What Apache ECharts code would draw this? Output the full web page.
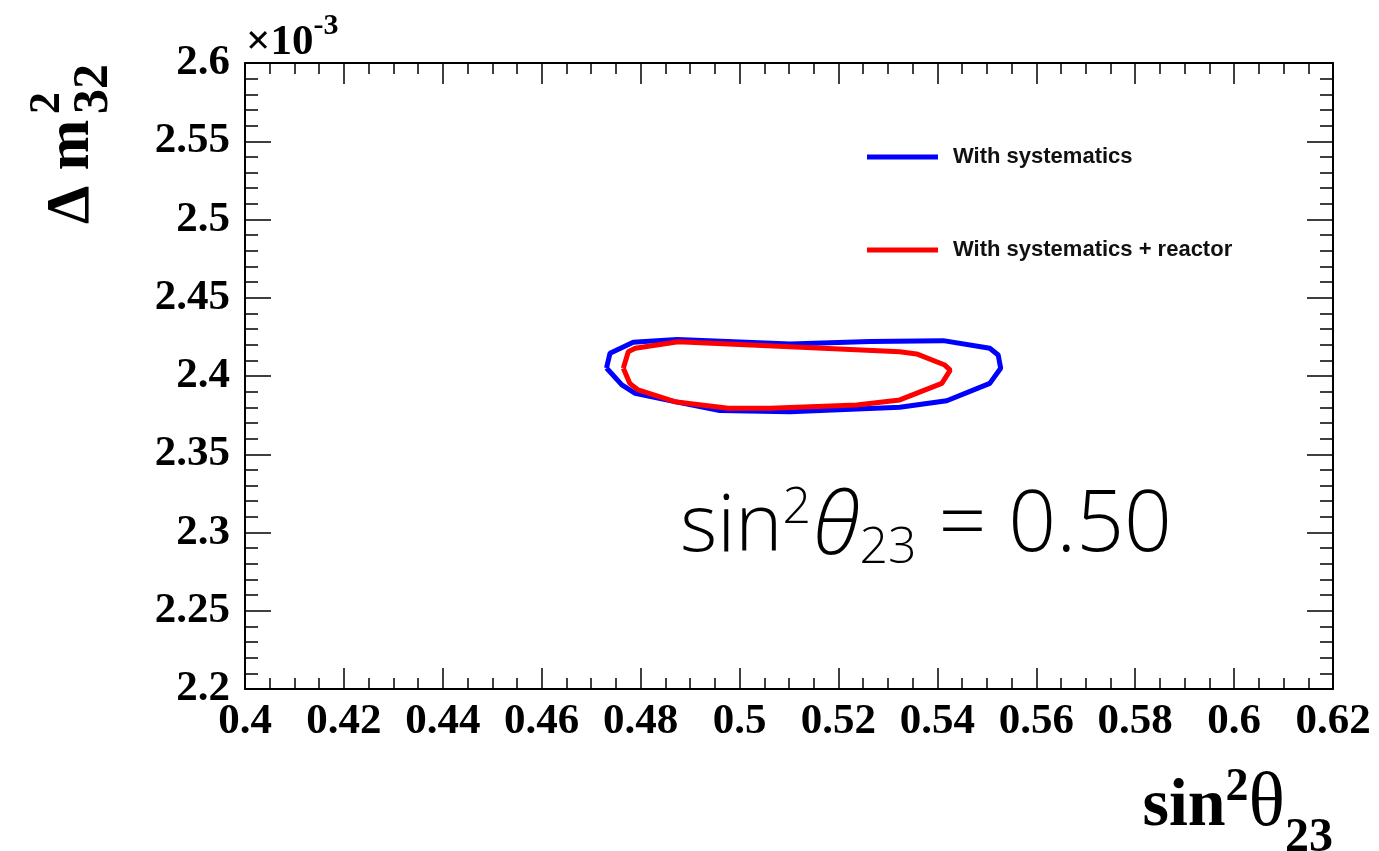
<!DOCTYPE html>
<html>
<head>
<meta charset="utf-8">
<script src="https://cdn.jsdelivr.net/npm/echarts@6/dist/echarts.min.js"></script>
<style>
  html, body { margin: 0; padding: 0; background: #fff; }
  #chart { width: 1379px; height: 851px; }
</style>
</head>
<body>
<div id="chart"></div>
<script>
// Allowed-region contours in the (sin^2 theta23, dm^2_32) plane.
// dm^2_32 values are in units of 1e-3 eV^2 (see the x10^-3 axis marker).

// Contour: with systematics
const sysSin2 = [0.4731, 0.4738, 0.4785, 0.4874, 0.5102, 0.5264, 0.5412, 0.5506, 0.5523, 0.5528,
                 0.5506, 0.5419, 0.5324, 0.5102, 0.4960, 0.4869, 0.4789, 0.4762, 0.4731];
const sysDm2  = [2.4051, 2.4145, 2.4215, 2.4234, 2.4204, 2.4220, 2.4226, 2.4177, 2.4134, 2.4049,
                 2.3953, 2.3842, 2.3800, 2.3772, 2.3780, 2.3836, 2.3889, 2.3943, 2.4051];

// Contour: with systematics + reactor constraint
const reacSin2 = [0.4765, 0.4775, 0.4789, 0.4876, 0.5102, 0.5324, 0.5358, 0.5415, 0.5426, 0.5409,
                  0.5324, 0.5237, 0.5062, 0.4977, 0.4869, 0.4795, 0.4778, 0.4765];
const reacDm2  = [2.4049, 2.4155, 2.4177, 2.4219, 2.4187, 2.4155, 2.4141, 2.4070, 2.4038, 2.3953,
                  2.3847, 2.3815, 2.3794, 2.3794, 2.3836, 2.3911, 2.3953, 2.4049];

const seriesNames = ['With systematics', 'With systematics + reactor'];
const seriesColors = ['#0000ff', '#ff0000'];

// Axis ranges and tick steps
const xRange = [0.4, 0.62];
const xStep = 0.02;
const yRange = [2.2, 2.6];
const yStep = 0.05;

const pairs = (xs, ys) => xs.map((x, i) => [x, ys[i]]);

const serifBold = { fontFamily: 'Liberation Serif', fontWeight: 'bold', color: '#000' };
const frameLine = { show: true, onZero: false, lineStyle: { color: '#000', width: 2 } };

function xAxisDef(pos, showLabels) {
  return {
    type: 'value', position: pos, min: xRange[0], max: xRange[1], interval: xStep,
    axisLine: frameLine,
    axisTick: { show: true, inside: true, length: 21, lineStyle: { color: '#000', width: 1.5 } },
    minorTick: { show: true, splitNumber: 4, length: 11, lineStyle: { color: '#000', width: 1.5 } },
    splitLine: { show: false },
    axisLabel: showLabels ? Object.assign({ fontSize: 43, margin: 11 }, serifBold) : { show: false }
  };
}
function yAxisDef(pos, showLabels) {
  return {
    type: 'value', position: pos, min: yRange[0], max: yRange[1], interval: yStep,
    axisLine: frameLine,
    axisTick: { show: true, inside: true, length: 26, lineStyle: { color: '#000', width: 1.5 } },
    minorTick: { show: true, splitNumber: 5, length: 13, lineStyle: { color: '#000', width: 1.5 } },
    splitLine: { show: false },
    axisLabel: showLabels ? Object.assign({ fontSize: 43, margin: 15 }, serifBold) : { show: false }
  };
}

const chart = echarts.init(document.getElementById('chart'), null, { renderer: 'canvas' });

chart.setOption({
  animation: false,
  backgroundColor: '#fff',
  grid: { left: 245, right: 46, top: 63, bottom: 162, containLabel: false },
  xAxis: [xAxisDef('bottom', true), xAxisDef('top', false)],
  yAxis: [yAxisDef('left', true), yAxisDef('right', false)],
  legend: {
    left: 862, top: 141, orient: 'vertical',
    itemWidth: 71, itemHeight: 5, itemGap: 71, icon: 'rect',
    data: seriesNames,
    textStyle: { fontFamily: 'Liberation Sans', fontWeight: 'bold', fontSize: 22, color: '#111', padding: [0, 0, 0, 10] }
  },
  series: [
    {
      name: seriesNames[0], type: 'line', data: pairs(sysSin2, sysDm2),
      showSymbol: false, smooth: false, z: 3,
      lineStyle: { color: seriesColors[0], width: 5 }, itemStyle: { color: seriesColors[0] }
    },
    {
      name: seriesNames[1], type: 'line', data: pairs(reacSin2, reacDm2),
      showSymbol: false, smooth: false, z: 4,
      lineStyle: { color: seriesColors[1], width: 5 }, itemStyle: { color: seriesColors[1] }
    }
  ],
  graphic: [
    // x-axis title
    {
      type: 'text', right: 46, top: 765,
      style: {
        text: '{b|sin}{sup|2}{th|θ}{sub|23}',
        rich: {
          b:   { fontFamily: 'Liberation Serif', fontWeight: 'bold', fontSize: 68, lineHeight: 68, verticalAlign: 'top', padding: [8, 0, 0, 0], fill: '#000' },
          sup: { fontFamily: 'Liberation Serif', fontWeight: 'bold', fontSize: 46, lineHeight: 46, verticalAlign: 'top', padding: [0, 0, 0, 0], fill: '#000' },
          th:  { fontFamily: 'Liberation Serif', fontWeight: 'normal', fontSize: 76, lineHeight: 76, verticalAlign: 'top', padding: [2, 0, 0, 0], fill: '#000' },
          sub: { fontFamily: 'Liberation Serif', fontWeight: 'bold', fontSize: 48, lineHeight: 48, verticalAlign: 'top', padding: [50, 0, 0, 0], fill: '#000' }
        }
      }
    },
    // y-axis title, rotated to read bottom-to-top
    {
      type: 'group', x: 103, y: 224, rotation: Math.PI / 2,
      children: [
        {
          type: 'text', x: 0, y: 0,
          style: { text: 'Δ m', fontFamily: 'Liberation Serif', fontWeight: 'bold', fontSize: 61, fill: '#000', textAlign: 'left', textVerticalAlign: 'bottom' }
        },
        {
          type: 'text', x: 110, y: -33,
          style: { text: '2', fontFamily: 'Liberation Serif', fontWeight: 'bold', fontSize: 44, fill: '#000', textAlign: 'left', textVerticalAlign: 'bottom' }
        },
        {
          type: 'text', x: 110, y: 16,
          style: { text: '32', fontFamily: 'Liberation Serif', fontWeight: 'bold', fontSize: 50, fill: '#000', textAlign: 'left', textVerticalAlign: 'bottom' }
        }
      ]
    },
    // scale marker for the y axis
    {
      type: 'text', left: 246, top: 6,
      style: {
        text: '{b|×10}{sup|-3}',
        rich: {
          b:   { fontFamily: 'Liberation Serif', fontWeight: 'bold', fontSize: 43, lineHeight: 43, verticalAlign: 'top', padding: [15, 0, 0, 0], fill: '#000' },
          sup: { fontFamily: 'Liberation Serif', fontWeight: 'bold', fontSize: 30, lineHeight: 30, verticalAlign: 'top', padding: [5, 0, 0, 0], fill: '#000' }
        }
      }
    },
    // best-fit annotation
    {
      type: 'text', left: 680, top: 470,
      style: {
        text: '{s|sin}{sup|2}{th|θ}{sub|23}{v| = 0.50}',
        rich: {
          s:   { fontFamily: 'Open Sans', fontWeight: 300, fontSize: 80, lineHeight: 80, verticalAlign: 'top', padding: [18, 0, 0, 0], fill: '#000' },
          v:   { fontFamily: 'Open Sans', fontWeight: 300, fontSize: 84, lineHeight: 84, verticalAlign: 'top', padding: [15, 0, 0, 0], fill: '#000' },
          sup: { fontFamily: 'Open Sans', fontWeight: 300, fontSize: 50, lineHeight: 50, verticalAlign: 'top', padding: [14, 0, 0, 0], fill: '#000' },
          th:  { fontFamily: 'Open Sans', fontWeight: 300, fontStyle: 'italic', fontSize: 86, lineHeight: 86, verticalAlign: 'top', padding: [16, 0, 0, 2], fill: '#000' },
          sub: { fontFamily: 'Open Sans', fontWeight: 300, fontSize: 50, lineHeight: 50, verticalAlign: 'top', padding: [54, 0, 0, 0], fill: '#000' }
        }
      }
    }
  ]
});
</script>
</body>
</html>
